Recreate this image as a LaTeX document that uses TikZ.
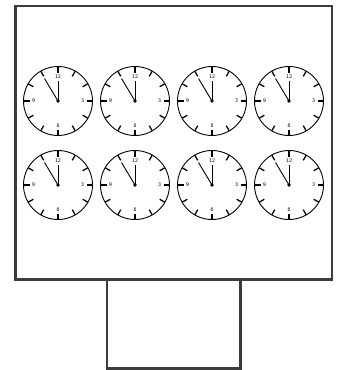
\documentclass[tikz,border=0pt]{standalone}
\usetikzlibrary{calc}
\definecolor{frame}{HTML}{3C3C3C}
\begin{document}
\begin{tikzpicture}[x=1pt,y=-1pt,
  framebox/.style={draw=frame,line width=2.3pt,fill=white},
  clockface/.style={draw=black,line width=0.9pt,fill=white},
  ticks/.style={line width=1.3pt,black},
  hand/.style={line width=0.9pt,black},
  numeral/.style={font=\fontsize{5.5}{5.5}\selectfont\sffamily,inner sep=0pt},
  clock/.pic={
    \draw[clockface] (0,0) circle[radius=34.5];
    \foreach \a in {0,30,...,330}{
      \draw[ticks] (\a:28.5) -- (\a:34.5);
    }
    \node[numeral] at (0,-24.5) {12};
    \node[numeral] at (24.5,0) {3};
    \node[numeral] at (0,24.5) {6};
    \node[numeral] at (-24.5,0) {9};
    \draw[hand] (0,0) -- (0,-20);
    \draw[hand] (0,0) -- (-13.5,-22.5);
    \fill (0,0) circle[radius=1.8];
  }]
\useasboundingbox (0,0) rectangle (339,370);
\draw[framebox] (107,279.5) rectangle (240.5,368.5);
\draw[framebox] (15.5,6) rectangle (332,279.5);
\foreach \cx in {58,135,212,289}{
  \foreach \cy in {101,185}{
    \pic at (\cx,\cy) {clock};
  }
}
\end{tikzpicture}
\end{document}
